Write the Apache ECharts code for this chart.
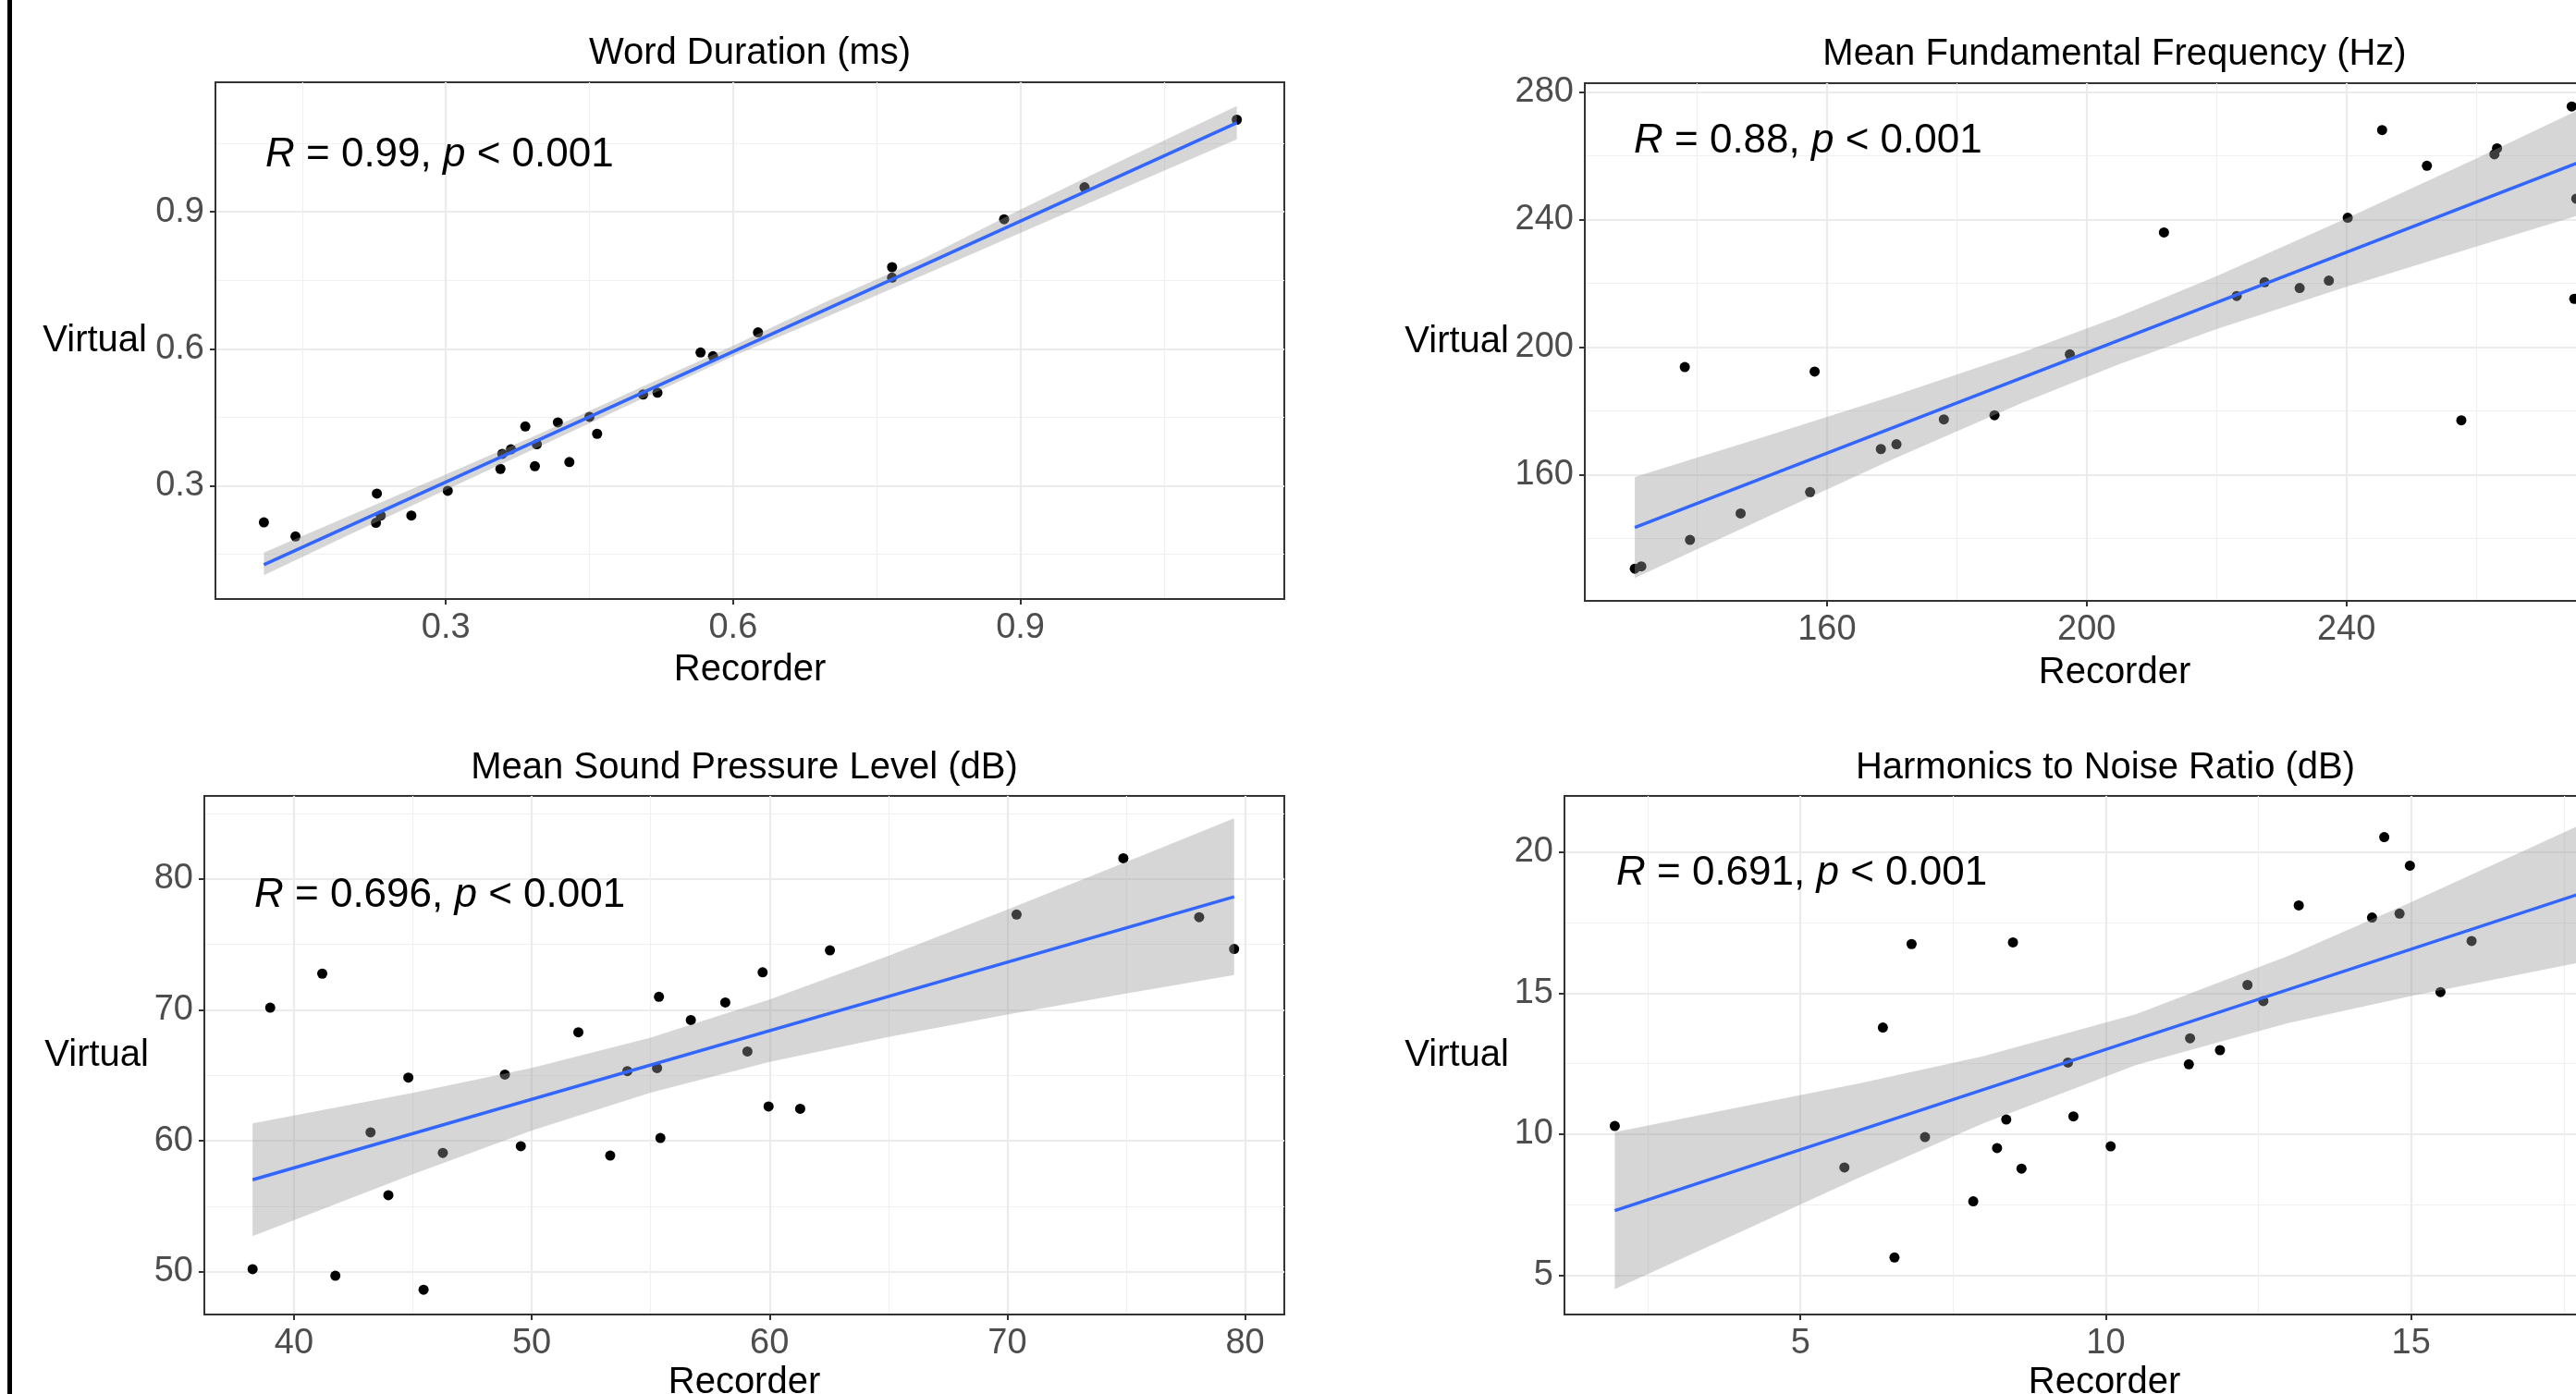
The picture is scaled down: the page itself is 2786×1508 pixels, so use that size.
<!DOCTYPE html>
<html>
<head>
<meta charset="utf-8">
<script src="https://cdn.jsdelivr.net/npm/echarts@6/dist/echarts.min.js"></script>
<style>
html, body { margin: 0; padding: 0; background: #fff; }
#main { width: 2786px; height: 1508px; }
</style>
</head>
<body>
<div id="main"></div>
<script>
var myChart = echarts.init(document.getElementById('main'));
var fontFamily = 'Arial, "Liberation Sans", sans-serif';

var titles = ['Word Duration (ms)', 'Mean Fundamental Frequency (Hz)',
              'Mean Sound Pressure Level (dB)', 'Harmonics to Noise Ratio (dB)'];
var corrR = ['0.99', '0.88', '0.696', '0.691'];
var corrP = ['0.001', '0.001', '0.001', '0.001'];

/* Word Duration */
var durX = [0.110, 0.143, 0.228, 0.227, 0.232, 0.264, 0.302, 0.357, 0.359, 0.368, 0.383, 0.393, 0.395, 0.417,
            0.429, 0.450, 0.458, 0.506, 0.521, 0.566, 0.579, 0.626, 0.766, 0.766, 0.883, 0.967, 1.126];
var durY = [0.220, 0.189, 0.283, 0.219, 0.235, 0.235, 0.289, 0.337, 0.370, 0.380, 0.430, 0.343, 0.391, 0.439,
            0.352, 0.451, 0.414, 0.500, 0.504, 0.592, 0.584, 0.636, 0.779, 0.756, 0.884, 0.954, 1.102];
var durFitX = [0.110, 1.126];
var durFitY = [0.127, 1.095];
var durBandX = [0.110, 0.2, 0.3, 0.4, 0.5, 0.6, 0.7, 0.8, 0.9, 1.0, 1.126];
var durBandLo = [0.104, 0.194, 0.291, 0.388, 0.486, 0.584, 0.672, 0.763, 0.854, 0.945, 1.059];
var durBandHi = [0.154, 0.235, 0.325, 0.416, 0.512, 0.607, 0.706, 0.799, 0.905, 1.007, 1.132];
var durXRange = [0.0594, 1.1756], durYRange = [0.052, 1.184];
var durXTicks = [0.3, 0.6, 0.9], durXMinor = [0.15, 0.45, 0.75, 1.05];
var durYTicks = [0.3, 0.6, 0.9], durYMinor = [0.15, 0.45, 0.75, 1.05];

/* Mean Fundamental Frequency */
var f0X = [130.4, 131.4, 138.1, 138.9, 146.7, 157.4, 158.1, 168.3, 170.7, 178.0, 185.8, 197.4, 211.9,
           223.1, 227.4, 232.8, 237.3, 240.2, 245.5, 252.4, 257.7, 262.8, 263.2, 274.7, 275.4, 275.1];
var f0Y = [130.6, 131.3, 193.8, 139.6, 147.9, 154.6, 192.4, 168.1, 169.6, 177.4, 178.7, 197.8, 236.0,
           216.1, 220.4, 218.6, 220.9, 240.6, 268.1, 256.9, 177.1, 260.5, 262.4, 275.5, 246.6, 215.2];
var f0FitX = [130.4, 278];
var f0FitY = [143.5, 259.7];
var f0BandX = [130.4, 150, 170, 190, 205, 220, 240, 260, 278];
var f0BandLo = [127.7, 146.1, 164.8, 182.5, 194.7, 205.7, 219.0, 231.6, 242.8];
var f0BandHi = [159.3, 171.7, 184.6, 198.3, 209.7, 222.3, 240.4, 259.2, 276.6];
var f0XRange = [122.7, 285.9], f0YRange = [120.5, 282.8];
var f0XTicks = [160, 200, 240, 280], f0XMinor = [140, 180, 220, 260];
var f0YTicks = [160, 200, 240, 280], f0YMinor = [140, 180, 220, 260];

/* Mean Sound Pressure Level */
var splX = [38.26, 39.0, 41.19, 41.74, 43.22, 43.97, 44.81, 45.45, 46.26, 48.87, 49.54, 51.96, 53.30, 54.02,
            55.27, 55.35, 55.41, 56.69, 58.14, 59.07, 59.71, 59.96, 61.29, 62.54, 70.39, 74.88, 78.07, 79.54];
var splY = [50.2, 70.17, 72.77, 49.70, 60.65, 55.85, 64.83, 48.63, 59.08, 65.06, 59.59, 68.29, 58.88, 65.33,
            65.56, 71.00, 60.22, 69.23, 70.57, 66.83, 72.87, 62.63, 62.45, 74.55, 77.28, 81.58, 77.08, 74.65];
var splFitX = [38.26, 79.54];
var splFitY = [57.03, 78.64];
var splBandX = [38.26, 45, 50, 55, 60, 65, 70, 75, 79.54];
var splBandLo = [52.73, 57.46, 60.79, 63.69, 66.02, 67.93, 69.64, 71.25, 72.66];
var splBandHi = [61.34, 63.66, 65.57, 67.89, 70.80, 74.13, 77.66, 81.29, 84.62];
var splXRange = [36.23, 81.65], splYRange = [46.74, 86.34];
var splXTicks = [40, 50, 60, 70, 80], splXMinor = [45, 55, 65, 75];
var splYTicks = [50, 60, 70, 80], splYMinor = [55, 65, 75, 85];

/* Harmonics to Noise Ratio */
var hnrX = [1.96, 5.72, 6.35, 6.54, 6.82, 7.04, 7.83, 8.22, 8.37, 8.48, 8.62, 9.38, 9.47, 10.08,
            11.36, 11.38, 11.87, 12.32, 12.58, 13.16, 14.36, 14.56, 14.81, 14.98, 15.48, 15.99];
var hnrY = [10.29, 8.82, 13.78, 5.63, 16.74, 9.90, 7.62, 9.51, 10.52, 16.80, 8.78, 12.54, 10.63, 9.57,
            12.48, 13.40, 12.98, 15.29, 14.72, 18.11, 17.68, 20.53, 17.82, 19.52, 15.04, 16.85];
var hnrFitX = [1.96, 18.0];
var hnrFitY = [7.29, 18.69];
var hnrBandX = [1.96, 4, 6, 8, 10.5, 13, 15, 18];
var hnrBandLo = [4.51, 6.52, 8.50, 10.39, 12.46, 13.95, 14.90, 16.19];
var hnrBandHi = [10.07, 10.96, 11.82, 12.77, 14.26, 16.33, 18.22, 21.19];
var hnrXRange = [1.136, 18.82], hnrYRange = [3.61, 21.99];
var hnrXTicks = [5, 10, 15], hnrXMinor = [2.5, 7.5, 12.5, 17.5];
var hnrYTicks = [5, 10, 15, 20], hnrYMinor = [7.5, 12.5, 17.5];

var panels = [
    {x: durX, y: durY, fx: durFitX, fy: durFitY, bx: durBandX, lo: durBandLo, hi: durBandHi,
     xr: durXRange, yr: durYRange, xt: durXTicks, xm: durXMinor, yt: durYTicks, ym: durYMinor},
    {x: f0X, y: f0Y, fx: f0FitX, fy: f0FitY, bx: f0BandX, lo: f0BandLo, hi: f0BandHi,
     xr: f0XRange, yr: f0YRange, xt: f0XTicks, xm: f0XMinor, yt: f0YTicks, ym: f0YMinor},
    {x: splX, y: splY, fx: splFitX, fy: splFitY, bx: splBandX, lo: splBandLo, hi: splBandHi,
     xr: splXRange, yr: splYRange, xt: splXTicks, xm: splXMinor, yt: splYTicks, ym: splYMinor},
    {x: hnrX, y: hnrY, fx: hnrFitX, fy: hnrFitY, bx: hnrBandX, lo: hnrBandLo, hi: hnrBandHi,
     xr: hnrXRange, yr: hnrYRange, xt: hnrXTicks, xm: hnrXMinor, yt: hnrYTicks, ym: hnrYMinor}
];

// layout (pixels)
var gridRects = [[233, 89, 1156, 559], [1714, 90, 1146, 560], [221, 861, 1168, 561], [1692, 861, 1168, 561]];
var titlePos = [[811, 58], [2287, 59], [805, 831], [2277, 831]];
var corrPos = [[287, 168], [1767, 153], [275, 969], [1748, 945]];
var yNameGap = [74, 82, 60, 60];
var xNameGap = [57, 58, 54, 54];

var grid = [], xAxis = [], yAxis = [], series = [], graphic = [];

// thick frame line at the left edge
graphic.push({type: 'rect', z: 100, shape: {x: 8, y: 0, width: 5, height: 1508}, style: {fill: '#000'}});

panels.forEach(function(p, i) {
    var r = gridRects[i];
    grid.push({
        left: r[0], top: r[1], width: r[2], height: r[3],
        show: true, borderColor: '#333', borderWidth: 2, backgroundColor: 'transparent',
        containLabel: false, outerBoundsMode: 'none'
    });

    // main axes: ticks, labels, major grid
    xAxis.push({
        type: 'value', gridIndex: i, position: 'bottom', min: p.xr[0], max: p.xr[1],
        name: 'Recorder', nameLocation: 'middle', nameGap: xNameGap[i], nameMoveOverlap: false,
        nameTextStyle: {color: '#000', fontSize: 40, fontFamily: fontFamily},
        axisLine: {show: true, onZero: false, lineStyle: {color: '#333', width: 2}},
        axisTick: {show: true, length: 6, customValues: p.xt, lineStyle: {color: '#333', width: 2}},
        axisLabel: {customValues: p.xt, color: '#4D4D4D', fontSize: 38, fontFamily: fontFamily, margin: 13},
        splitLine: {show: true, lineStyle: {color: '#EBEBEB', width: 2.2}}
    });
    // second axis only for the minor grid lines
    xAxis.push({
        type: 'value', gridIndex: i, position: 'top', min: p.xr[0], max: p.xr[1],
        axisLine: {show: false}, axisLabel: {show: false},
        axisTick: {show: false, customValues: p.xm},
        splitLine: {show: true, lineStyle: {color: '#F0F0F0', width: 1.2}}
    });
    yAxis.push({
        type: 'value', gridIndex: i, position: 'left', min: p.yr[0], max: p.yr[1],
        name: 'Virtual', nameLocation: 'middle', nameRotate: 0, nameGap: yNameGap[i], nameMoveOverlap: false,
        nameTextStyle: {color: '#000', fontSize: 40, fontFamily: fontFamily},
        axisLine: {show: true, onZero: false, lineStyle: {color: '#333', width: 2}},
        axisTick: {show: true, length: 6, customValues: p.yt, lineStyle: {color: '#333', width: 2}},
        axisLabel: {customValues: p.yt, color: '#4D4D4D', fontSize: 38, fontFamily: fontFamily, margin: 12},
        splitLine: {show: true, lineStyle: {color: '#EBEBEB', width: 2.2}}
    });
    yAxis.push({
        type: 'value', gridIndex: i, position: 'right', min: p.yr[0], max: p.yr[1],
        axisLine: {show: false}, axisLabel: {show: false},
        axisTick: {show: false, customValues: p.ym},
        splitLine: {show: true, lineStyle: {color: '#F0F0F0', width: 1.2}}
    });

    var pts = p.x.map(function(v, k) { return [v, p.y[k]]; });
    series.push({
        type: 'scatter', xAxisIndex: 2 * i, yAxisIndex: 2 * i, z: 2,
        symbolSize: 11, itemStyle: {color: '#000', opacity: 1}, data: pts
    });

    // confidence band, drawn over the points like geom_smooth
    var bandRows = p.bx.map(function(v, k) { return [v, p.lo[k], p.hi[k]]; });
    series.push({
        type: 'custom', xAxisIndex: 2 * i, yAxisIndex: 2 * i, z: 3, silent: true,
        data: bandRows, encode: {x: 0, y: [1, 2]},
        renderItem: function(params, api) {
            if (params.dataIndex !== 0) return null;
            var poly = [];
            for (var a = 0; a < bandRows.length; a++) poly.push(api.coord([bandRows[a][0], bandRows[a][1]]));
            for (var b = bandRows.length - 1; b >= 0; b--) poly.push(api.coord([bandRows[b][0], bandRows[b][2]]));
            return {type: 'polygon', shape: {points: poly}, style: {fill: 'rgba(153,153,153,0.4)'}};
        }
    });

    series.push({
        type: 'line', xAxisIndex: 2 * i, yAxisIndex: 2 * i, z: 4, symbol: 'none',
        lineStyle: {color: '#3366FF', width: 3.5},
        data: p.fx.map(function(v, k) { return [v, p.fy[k]]; })
    });

    graphic.push({
        type: 'text', z: 100, x: titlePos[i][0], y: titlePos[i][1],
        style: {text: titles[i], fill: '#000', fontSize: 40, fontFamily: fontFamily,
                align: 'center', textAlign: 'center', verticalAlign: 'middle', textVerticalAlign: 'middle'}
    });
    graphic.push({
        type: 'text', z: 100, x: corrPos[i][0], y: corrPos[i][1],
        style: {
            text: '{i|R} = ' + corrR[i] + ', {i|p} < ' + corrP[i],
            fill: '#000', fontSize: 44, fontFamily: fontFamily,
            align: 'left', textAlign: 'left', verticalAlign: 'middle', textVerticalAlign: 'middle',
            rich: {i: {fontStyle: 'italic', fontSize: 44, fontFamily: fontFamily, fill: '#000'}}
        }
    });
});

option = {
    backgroundColor: '#fff',
    animation: false,
    grid: grid,
    xAxis: xAxis,
    yAxis: yAxis,
    series: series,
    graphic: graphic
};
myChart.setOption(option);
</script>
</body>
</html>
